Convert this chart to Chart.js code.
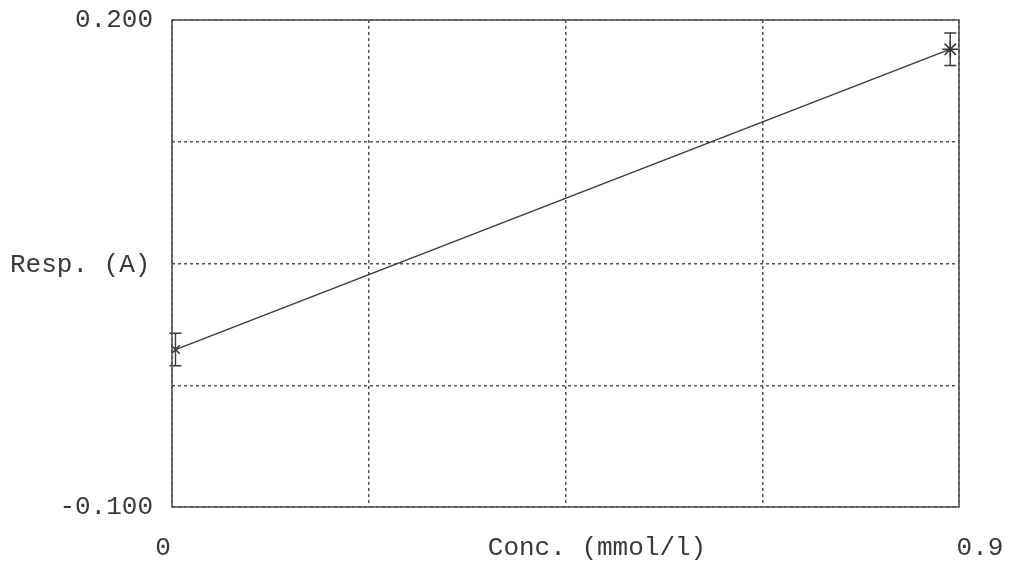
<!DOCTYPE html>
<html>
<head>
<meta charset="utf-8">
<script src="https://cdn.jsdelivr.net/npm/chart.js@4.4.1/dist/chart.umd.min.js"></script>
<style>
  html, body { margin: 0; padding: 0; background: #fff; }
  #wrap { width: 1016px; height: 564px; position: relative; }
</style>
</head>
<body>
<div id="wrap"><canvas id="grafica"></canvas></div>
<script>
// datos
var concValues = [0.004, 0.89];
var respValues = [-0.003, 0.182];
var respErrLow = [-0.013, 0.172];
var respErrHigh = [0.007, 0.192];
var pointStyles = ['crossRot', 'star'];
var xTickLabels = ['0', '0.9'];
var yTickLabels = ['-0.100', '0.200'];
var xTitle = 'Conc. (mmol/l)';
var yTitle = 'Resp. (A)';

var FONT = '"Liberation Mono", "Courier New", monospace';
var INK = '#3a3a3a';

var puntos = concValues.map(function (x, i) {
    return { x: x, y: respValues[i] };
});

// barras de error, marco, etiquetas de x y titulos de los ejes
var extras = {
    id: 'extras',
    afterDatasetsDraw: function (chart) {
        var ctx = chart.ctx;
        var xs = chart.scales.x, ys = chart.scales.y;
        ctx.save();
        ctx.strokeStyle = INK;
        ctx.lineWidth = 1.4;
        ctx.setLineDash([]);
        for (var i = 0; i < concValues.length; i++) {
            var px = xs.getPixelForValue(concValues[i]);
            var lo = ys.getPixelForValue(respErrLow[i]);
            var hi = ys.getPixelForValue(respErrHigh[i]);
            ctx.beginPath();
            ctx.moveTo(px, lo); ctx.lineTo(px, hi);
            ctx.moveTo(px - 6, lo); ctx.lineTo(px + 6, lo);
            ctx.moveTo(px - 6, hi); ctx.lineTo(px + 6, hi);
            ctx.stroke();
        }
        ctx.restore();
    },
    afterDraw: function (chart) {
        var ctx = chart.ctx;
        var a = chart.chartArea;
        var xs = chart.scales.x;
        ctx.save();
        ctx.setLineDash([]);
        ctx.strokeStyle = '#555';
        ctx.lineWidth = 1.6;
        ctx.strokeRect(a.left, a.top, a.right - a.left, a.bottom - a.top);
        ctx.fillStyle = INK;
        ctx.font = '26px ' + FONT;
        ctx.textBaseline = 'middle';
        ctx.textAlign = 'left';
        ctx.fillText(yTitle, 10, 265);
        ctx.textAlign = 'center';
        ctx.fillText(xTitle, 597, 548);
        ctx.fillText(xTickLabels[0], xs.getPixelForValue(xs.min) - 9, 548);
        ctx.fillText(xTickLabels[1], xs.getPixelForValue(xs.max) + 21, 548);
        ctx.restore();
    }
};

var chart = new Chart(document.getElementById('grafica').getContext('2d'), {
    type: 'scatter',
    data: {
        datasets: [{
            data: puntos,
            showLine: true,
            borderColor: INK,
            borderWidth: 1.4,
            pointStyle: pointStyles,
            pointRadius: [6, 8],
            pointBorderColor: INK,
            pointBorderWidth: 1.6,
            pointBackgroundColor: 'transparent',
            fill: false
        }]
    },
    options: {
        responsive: true,
        maintainAspectRatio: false,
        animation: false,
        layout: { padding: { left: 0, right: 57, top: 20, bottom: 0 } },
        plugins: {
            legend: { display: false },
            tooltip: { enabled: false }
        },
        scales: {
            x: {
                type: 'linear',
                min: 0,
                max: 0.9,
                ticks: {
                    stepSize: 0.225,
                    maxRotation: 0,
                    callback: function () { return ''; }
                },
                grid: { color: '#555', lineWidth: 1.5, drawTicks: false },
                border: { display: false, dash: [3, 3] },
                afterFit: function (s) {
                    s.height = 57;
                    s.paddingLeft = 0; s.paddingRight = 0;
                }
            },
            y: {
                type: 'linear',
                min: -0.1,
                max: 0.2,
                ticks: {
                    stepSize: 0.075,
                    padding: 19,
                    color: INK,
                    font: { family: FONT, size: 26 },
                    callback: function (v, i, t) {
                        if (i === 0) return yTickLabels[0];
                        if (i === t.length - 1) return yTickLabels[1];
                        return '';
                    }
                },
                grid: { color: '#555', lineWidth: 1.5, drawTicks: false },
                border: { display: false, dash: [3, 3] },
                afterFit: function (s) {
                    s.width = 172;
                    s.paddingTop = 0; s.paddingBottom = 0;
                }
            }
        }
    },
    plugins: [extras]
});
</script>
</body>
</html>
